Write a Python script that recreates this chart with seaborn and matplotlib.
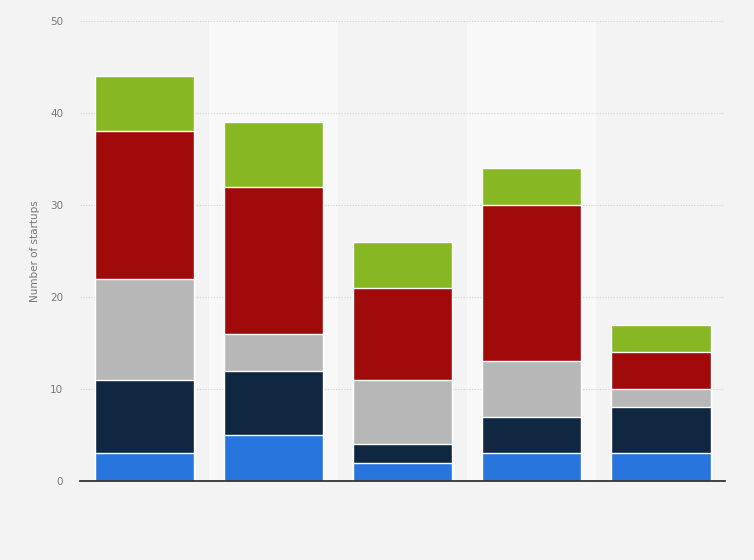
import numpy as np
import pandas as pd
import seaborn as sns
import matplotlib.pyplot as plt

# data (stack order bottom -> top)
categories = ["Group 1", "Group 2", "Group 3", "Group 4", "Group 5"]
series_names = ["Series 1", "Series 2", "Series 3", "Series 4", "Series 5"]
s1 = [3, 5, 2, 3, 3]
s2 = [8, 7, 2, 4, 5]
s3 = [11, 4, 7, 6, 2]
s4 = [16, 16, 10, 17, 4]
s5 = [6, 7, 5, 4, 3]
colors = ["#2876dd", "#0f2741", "#b7b7b7", "#a10a0a", "#87b823"]

sns.set_theme(style="white")
plt.rcParams['font.family'] = ['DejaVu Sans']

fig = plt.figure(figsize=(7.54, 5.6), dpi=100)
fig.patch.set_facecolor("#f3f3f3")
ax = fig.add_axes([0.106, 0.141, 0.856, 0.8215])
ax.set_facecolor("#f3f3f3")

# alternating column shading
for i in range(len(categories)):
    if i % 2 == 1:
        ax.axvspan(i - 0.5, i + 0.5, color="#f8f8f8", zorder=0, lw=0)

# stack by drawing cumulative totals from the top down
stack = np.array([s1, s2, s3, s4, s5])
cum = np.cumsum(stack, axis=0)
for k in range(len(series_names) - 1, -1, -1):
    df = pd.DataFrame({"category": categories, "value": cum[k]})
    sns.barplot(data=df, x="category", y="value", color=colors[k],
                saturation=1, width=0.77, edgecolor="white", linewidth=1,
                ax=ax, zorder=3)

ax.set_ylim(0, 50)
ax.set_xlim(-0.5, len(categories) - 0.5)
ax.set_yticks([0, 10, 20, 30, 40, 50])
ax.yaxis.grid(True, linestyle=(0, (1, 1.5)), color="#cfcfcf", linewidth=0.8)
ax.set_axisbelow(True)
ax.tick_params(axis="y", labelsize=7.5, colors="#777777", length=0, pad=12)
ax.set_xticklabels([])
ax.tick_params(axis="x", length=0)
ax.set_xlabel("")
ax.set_ylabel("Number of startups", fontsize=7.5, color="#777777", labelpad=7)
for side in ["top", "right", "left"]:
    ax.spines[side].set_visible(False)
ax.spines["bottom"].set_color("#333333")
ax.spines["bottom"].set_linewidth(1.3)
ax.spines["bottom"].set_zorder(5)

fig.savefig("out.png", dpi=100, facecolor=fig.get_facecolor())
